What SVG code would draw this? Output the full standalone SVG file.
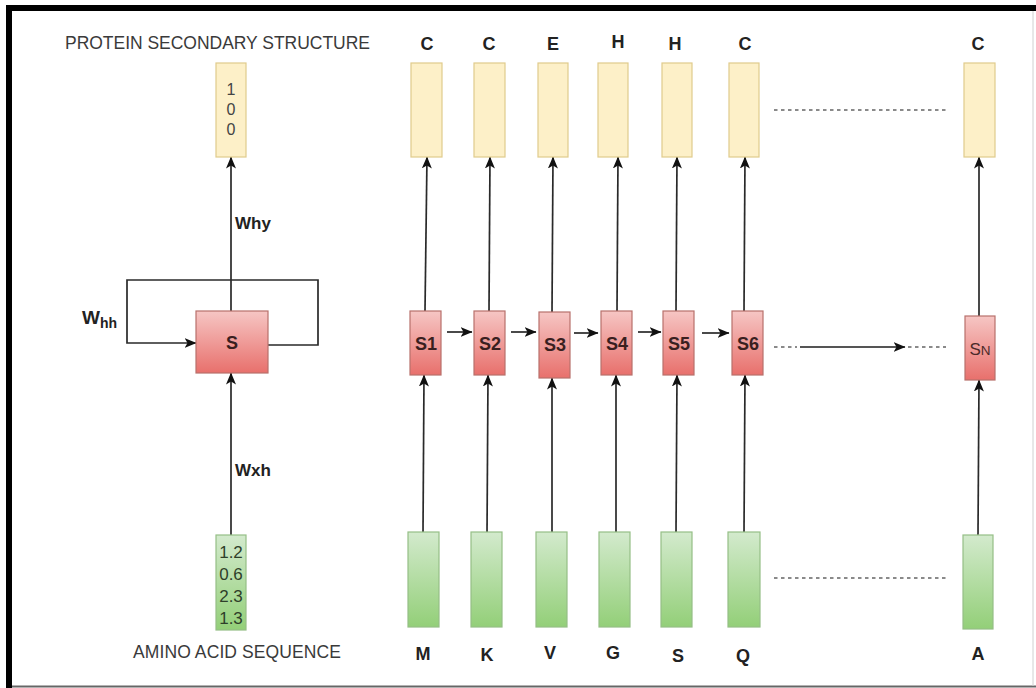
<svg xmlns="http://www.w3.org/2000/svg" width="1036" height="688" viewBox="0 0 1036 688">
<defs>
<linearGradient id="gRed" x1="0" y1="0" x2="0" y2="1"><stop offset="0" stop-color="#f6c6c4"/><stop offset="1" stop-color="#e8706c"/></linearGradient>
<linearGradient id="gGreen" x1="0" y1="0" x2="0" y2="1"><stop offset="0" stop-color="#d3eacd"/><stop offset="1" stop-color="#93cf78"/></linearGradient>
<marker id="ah" viewBox="0 0 12 10" refX="11.5" refY="5" markerWidth="12" markerHeight="10" markerUnits="userSpaceOnUse" orient="auto"><path d="M0,0 L12,5 L0,10 L3,5 z" fill="#111"/></marker>
<style>
.txt{font-family:"Liberation Sans",Arial,sans-serif;fill:#333}
.cap{font-size:17.5px;fill:#3a3a3a}
.lbl{font-size:18px;font-weight:bold;text-anchor:middle;fill:#222}
.st{font-size:18px;font-weight:bold;text-anchor:middle;fill:#3a1f1f}
.num{font-size:16px;text-anchor:middle;fill:#444}
.gnum{font-size:17px;text-anchor:middle;fill:#2f3f2a}
.w{font-size:17px;font-weight:bold;fill:#222}
.out{fill:#fdf0c8;stroke:#e0cb8c;stroke-width:1.2}
.hid{fill:url(#gRed);stroke:#b8716c;stroke-width:1.2}
.inp{fill:url(#gGreen);stroke:#95bf86;stroke-width:1.2}
.con{fill:none;stroke:#2a2a2a;stroke-width:1.7}
.arr{marker-end:url(#ah)}
.dot{fill:none;stroke:#8a8a8a;stroke-width:2.2;stroke-dasharray:3.5 3.5}
</style>
</defs>
<rect width="1036" height="688" fill="#ffffff"/>
<g id="frame">
<rect x="6" y="5" width="1030" height="6" fill="#000"/>
<rect x="6" y="5" width="6" height="683" fill="#000"/>
<line x1="12" y1="686.5" x2="1036" y2="686.5" stroke="#666" stroke-width="2"/>
<line x1="1033" y1="11" x2="1033" y2="686" stroke="#d0d0d0" stroke-width="1"/>
</g>
<g id="titles">
<text class="txt cap" x="65" y="49" textLength="305">PROTEIN SECONDARY STRUCTURE</text>
<text class="txt cap" x="133" y="658" textLength="208">AMINO ACID SEQUENCE</text>
</g>
<g id="connectors">
<line class="con arr" x1="231" y1="311" x2="231" y2="157"/>
<path class="con arr" d="M268,345 L318,345 L318,280 L127,280 L127,343 L196,343"/>
<line class="con arr" x1="231" y1="535" x2="231" y2="373"/>
<line class="con arr" x1="425" y1="311" x2="427" y2="157"/>
<line class="con arr" x1="489" y1="311" x2="490" y2="157"/>
<line class="con arr" x1="552" y1="312" x2="553" y2="157"/>
<line class="con arr" x1="617" y1="311" x2="618" y2="157"/>
<line class="con arr" x1="676" y1="311" x2="677" y2="157"/>
<line class="con arr" x1="744" y1="311" x2="745" y2="157"/>
<line class="con arr" x1="979" y1="316" x2="979" y2="157"/>
<line class="con arr" x1="423" y1="532" x2="424" y2="375"/>
<line class="con arr" x1="487" y1="535" x2="488" y2="375"/>
<line class="con arr" x1="552" y1="532" x2="552" y2="378"/>
<line class="con arr" x1="616" y1="532" x2="616" y2="375"/>
<line class="con arr" x1="676" y1="532" x2="677" y2="375"/>
<line class="con arr" x1="744" y1="532" x2="745" y2="375"/>
<line class="con arr" x1="978" y1="535" x2="979" y2="380"/>
<line class="con arr" x1="447" y1="332" x2="472" y2="332"/>
<line class="con arr" x1="511" y1="332" x2="536" y2="332"/>
<line class="con arr" x1="574" y1="333" x2="598" y2="333"/>
<line class="con arr" x1="638" y1="332" x2="661" y2="332"/>
<line class="con arr" x1="702" y1="333" x2="729" y2="333"/>
<line class="dot" x1="774" y1="347" x2="797" y2="347"/>
<line class="con arr" x1="800" y1="347" x2="905" y2="347" style="stroke:#555;stroke-width:2.2"/>
<line class="dot" x1="908" y1="347" x2="946" y2="347"/>
<line class="dot" x1="774" y1="110" x2="947" y2="110"/>
<line class="dot" x1="774" y1="578" x2="946" y2="578"/>
</g>
<g id="weights">
<text class="txt w" x="235" y="229">Why</text>
<text class="txt w" x="235" y="476">Wxh</text>
<text class="txt w" x="82" y="324" style="font-size:19px">W<tspan dy="4" style="font-size:14px">hh</tspan></text>
</g>
<g id="y-left"><rect class="out" x="216" y="63" width="30" height="94"/>
<text class="txt num" x="231" y="95">1</text><text class="txt num" x="231" y="115">0</text><text class="txt num" x="231" y="135">0</text></g>
<g id="s-left"><rect class="hid" x="196" y="311" width="72" height="62"/><text class="txt st" x="232" y="349">S</text></g>
<g id="x-left"><rect class="inp" x="216" y="535" width="30" height="95"/>
<text class="txt gnum" x="231" y="558">1.2</text><text class="txt gnum" x="231" y="580">0.6</text><text class="txt gnum" x="231" y="602">2.3</text><text class="txt gnum" x="231" y="624">1.3</text></g>
<g id="y1"><rect class="out" x="411" y="63" width="31" height="94"/><text class="txt lbl" x="427" y="50">C</text></g>
<g id="y2"><rect class="out" x="474" y="63" width="31" height="94"/><text class="txt lbl" x="489" y="50">C</text></g>
<g id="y3"><rect class="out" x="538" y="63" width="30" height="94"/><text class="txt lbl" x="553" y="50">E</text></g>
<g id="y4"><rect class="out" x="598" y="63" width="30" height="94"/><text class="txt lbl" x="618" y="48">H</text></g>
<g id="y5"><rect class="out" x="662" y="63" width="30" height="94"/><text class="txt lbl" x="675" y="50">H</text></g>
<g id="y6"><rect class="out" x="729" y="63" width="30" height="94"/><text class="txt lbl" x="745" y="50">C</text></g>
<g id="yN"><rect class="out" x="964" y="63" width="31" height="94"/><text class="txt lbl" x="978" y="50">C</text></g>
<g id="s1"><rect class="hid" x="410" y="311" width="31" height="64"/><text class="txt st" x="426" y="350">S1</text></g>
<g id="s2"><rect class="hid" x="474" y="311" width="31" height="64"/><text class="txt st" x="490" y="350">S2</text></g>
<g id="s3"><rect class="hid" x="539" y="312" width="31" height="66"/><text class="txt st" x="555" y="351">S3</text></g>
<g id="s4"><rect class="hid" x="601" y="311" width="31" height="64"/><text class="txt st" x="617" y="350">S4</text></g>
<g id="s5"><rect class="hid" x="663" y="311" width="31" height="64"/><text class="txt st" x="679" y="350">S5</text></g>
<g id="s6"><rect class="hid" x="732" y="311" width="31" height="64"/><text class="txt st" x="748" y="350">S6</text></g>
<g id="sN"><rect class="hid" x="965" y="316" width="30" height="64"/><text class="txt" x="980" y="355" style="font-size:17px;text-anchor:middle;fill:#4a2a2a">S<tspan style="font-size:13.5px">N</tspan></text></g>
<g id="x1"><rect class="inp" x="408" y="532" width="31" height="95"/><text class="txt lbl" x="423" y="660">M</text></g>
<g id="x2"><rect class="inp" x="471" y="532" width="31" height="95"/><text class="txt lbl" x="487" y="661">K</text></g>
<g id="x3"><rect class="inp" x="536" y="532" width="31" height="95"/><text class="txt lbl" x="550" y="659">V</text></g>
<g id="x4"><rect class="inp" x="599" y="532" width="31" height="95"/><text class="txt lbl" x="613" y="659">G</text></g>
<g id="x5"><rect class="inp" x="661" y="532" width="31" height="95"/><text class="txt lbl" x="678" y="662">S</text></g>
<g id="x6"><rect class="inp" x="728" y="532" width="32" height="95"/><text class="txt lbl" x="743" y="662">Q</text></g>
<g id="xN"><rect class="inp" x="963" y="535" width="30" height="94"/><text class="txt lbl" x="978" y="660">A</text></g>
</svg>
